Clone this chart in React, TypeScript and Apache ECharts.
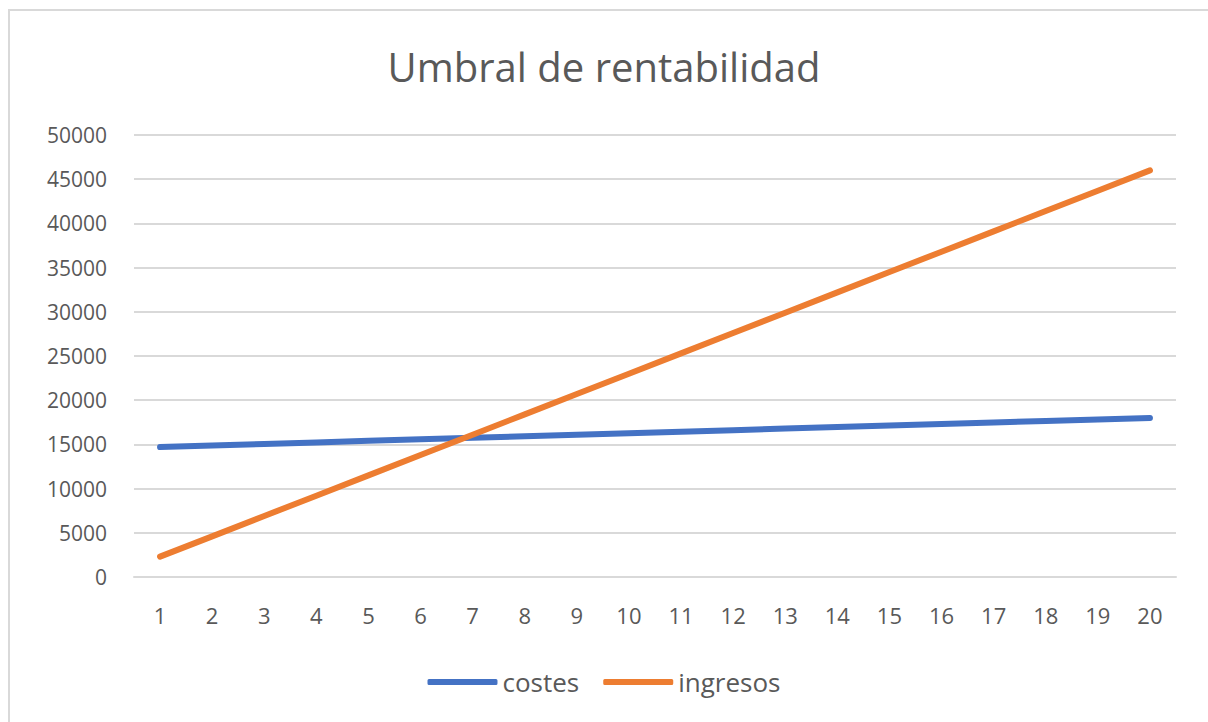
import React, { useEffect, useRef } from "react";
import * as echarts from "echarts";

const categories = ["1","2","3","4","5","6","7","8","9","10","11","12","13","14","15","16","17","18","19","20"];
const costes = [14700, 14870, 15050, 15220, 15400, 15570, 15740, 15920, 16090, 16260, 16440, 16610, 16790, 16960, 17130, 17310, 17480, 17650, 17830, 18000];
const ingresos = [2300, 4600, 6900, 9200, 11500, 13800, 16100, 18400, 20700, 23000, 25300, 27600, 29900, 32200, 34500, 36800, 39100, 41400, 43700, 46000];
const seriesNames = ["costes", "ingresos"];
const titleText = "Umbral de rentabilidad";

const FONT = "'Open Sans', 'Noto Sans', sans-serif";
const TXT = "#595959";

export default function App() {
  const ref = useRef<HTMLDivElement>(null);
  useEffect(() => {
    document.body.style.margin = "0";
    const chart = echarts.init(ref.current!, null, { renderer: "svg" });
    chart.setOption({
      animation: false,
      backgroundColor: "#ffffff",
      title: {
        text: titleText,
        left: "center",
        top: 41,
        textStyle: { fontFamily: FONT, fontSize: 40, fontWeight: "normal", color: TXT },
      },
      graphic: [
        {
          type: "rect",
          shape: { x: 9, y: 10, width: 1300, height: 800 },
          style: { fill: "none", stroke: "#d9d9d9", lineWidth: 2 },
          silent: true,
        },
      ],
      legend: {
        data: seriesNames,
        bottom: 22,
        left: "center",
        icon: "roundRect",
        itemWidth: 70,
        itemHeight: 6,
        itemGap: 24,
        textStyle: { fontFamily: FONT, fontSize: 26, color: TXT },
      },
      grid: { left: 134, right: 32, top: 135, bottom: 145, containLabel: false },
      xAxis: {
        type: "category",
        data: categories,
        boundaryGap: true,
        axisLine: { lineStyle: { color: "#d9d9d9", width: 2 } },
        axisTick: { show: false },
        axisLabel: { fontFamily: FONT, fontSize: 22, color: TXT, margin: 27 },
      },
      yAxis: {
        type: "value",
        min: 0,
        max: 50000,
        interval: 5000,
        axisLine: { show: false },
        axisTick: { show: false },
        splitLine: { lineStyle: { color: "#d9d9d9", width: 2 } },
        axisLabel: {
          fontFamily: FONT,
          fontSize: 21,
          color: TXT,
          margin: 27,
          formatter: (v: number) => String(v),
        },
      },
      series: [
        {
          name: seriesNames[0],
          type: "line",
          data: costes,
          symbol: "none",
          lineStyle: { color: "#4472c4", width: 6, cap: "round", join: "round" },
          itemStyle: { color: "#4472c4" },
        },
        {
          name: seriesNames[1],
          type: "line",
          data: ingresos,
          symbol: "none",
          lineStyle: { color: "#ed7d31", width: 6, cap: "round", join: "round" },
          itemStyle: { color: "#ed7d31" },
        },
      ],
    });
    return () => chart.dispose();
  }, []);
  return <div ref={ref} style={{ width: 1208, height: 722 }} />;
}
